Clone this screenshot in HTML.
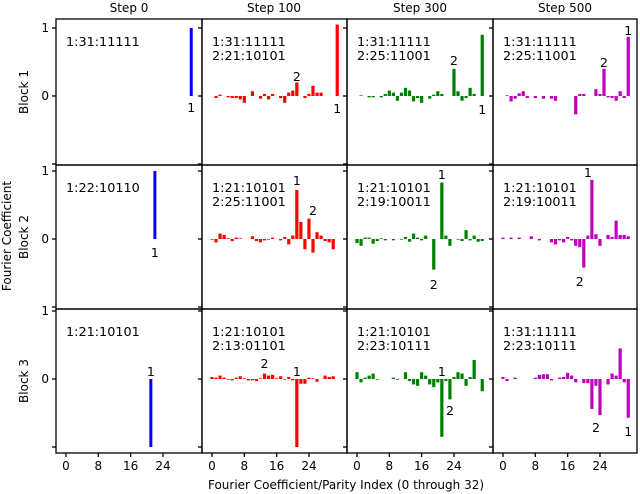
<!DOCTYPE html>
<html><head><meta charset="utf-8"><style>
body{margin:0;background:#fff}
svg{display:block;font-family:"DejaVu Sans","Liberation Sans",sans-serif}
</style></head><body>
<svg id="s" width="640" height="494" viewBox="0 0 640 494" xmlns="http://www.w3.org/2000/svg">
<g font-size="12" fill="#000" text-anchor="middle">
<text x="129" y="12">Step 0</text>
<text x="274" y="12">Step 100</text>
<text x="420" y="12">Step 300</text>
<text x="565" y="12">Step 500</text>
<text transform="translate(28,92) rotate(-90)">Block 1</text>
<text transform="translate(28,237) rotate(-90)">Block 2</text>
<text transform="translate(28,381) rotate(-90)">Block 3</text>
<text transform="translate(11,236) rotate(-90)">Fourier Coefficient</text>
<text x="346" y="489">Fourier Coefficient/Parity Index (0 through 32)</text>
</g>
<g id="bars"></g>
<g id="frame" fill="none" stroke="#000" stroke-width="1.3"></g>
</svg>
<script>
var svg=document.getElementById('s'),B=document.getElementById('bars'),F=document.getElementById('frame');
var NS="http://www.w3.org/2000/svg";
function el(t,a,p,txt){var e=document.createElementNS(NS,t);for(var k in a)e.setAttribute(k,a[k]);if(txt!==undefined)e.textContent=txt;(p||B).appendChild(e);return e;}
var L=[56,202,347,493,637],T=[19,165,309,453],Z=[96,239,379],U=68,cols=['#0000ff','#ff0000','#008000','#bf00bf'];
function z(n){var a=[];for(var i=0;i<32;i++)a.push(0);return a;}
var D=[[null,
[0,-.03,.02,0,-.02,-.03,-.03,-.05,-.1,0,.07,0,-.04,.03,-.05,.03,0,-.03,-.1,.05,.08,.2,0,-.03,.03,.15,.05,.05,0,0,0,1.05],
[0,.01,0,-.02,-.02,0,-.02,.03,.08,.05,-.07,.05,.12,.08,-.08,-.03,-.1,0,-.04,.02,.07,.03,0,0,.4,.07,-.07,-.03,.12,.03,0,.9],
[0,.01,-.08,-.04,.04,.07,-.03,0,-.03,0,-.04,0,-.04,-.07,0,0,0,0,-.27,.03,.03,0,0,.1,.03,.4,-.02,-.03,-.07,.07,-.03,.87]],
[null,
[-.01,-.05,.08,.06,.01,-.03,.02,.01,0,0,.04,-.03,-.05,-.02,-.01,.02,0,-.02,.03,-.08,.05,.72,.25,-.15,.3,-.2,.1,.05,-.03,-.05,-.15,0],
[-.06,-.1,.02,.02,-.07,-.03,.01,-.02,0,-.02,0,-.01,.03,-.04,.08,.02,-.02,.05,0,-.45,0,.83,.05,-.1,0,-.01,-.03,.13,-.02,.05,-.04,-.03],
[.02,0,.02,0,.02,0,0,.04,0,-.02,0,0,-.05,-.08,-.02,-.05,.03,-.02,-.1,-.12,-.42,.05,.87,.07,-.1,0,.06,.03,.27,.06,.06,.04]],
[null,
[.03,.02,.05,.02,-.01,-.02,.02,.04,.01,-.02,-.02,-.03,.01,.08,.05,.06,.01,.04,-.01,.03,-.02,-1,-.07,-.07,.02,.01,-.04,0,.05,.03,.04,0],
[.1,-.05,.02,.05,.08,-.01,0,0,0,.02,-.01,0,.1,-.03,-.08,-.1,.1,.05,-.08,-.12,-.05,-.85,-.03,-.3,.03,.1,.08,-.1,.03,.28,0,-.18],
[.03,-.03,0,.02,0,0,0,0,.02,.06,.07,.07,-.02,0,.02,.03,.09,.05,-.05,0,-.06,-.06,-.44,-.1,-.53,0,-.08,.08,.05,.45,-.05,-.57]]];
var a=z();a[31]=1;D[0][0]=a;a=z();a[22]=1;D[1][0]=a;a=z();a[21]=-1;D[2][0]=a;
function X(c,i){return L[c]+10+i*4.04;}
for(var r=0;r<3;r++)for(var c=0;c<4;c++){var v=D[r][c];for(var i=0;i<32;i++){if(!v[i])continue;var h=v[i]*U,w=c==0?3:3.2;
el('rect',{x:X(c,i)-w/2,y:h>0?Z[r]-h:Z[r],width:w,height:Math.abs(h),fill:cols[c]});}}
for(var r=0;r<3;r++)for(var c=0;c<4;c++)el('rect',{x:L[c],y:T[r],width:L[c+1]-L[c],height:T[r+1]-T[r]},F);
for(var r=0;r<3;r++)for(var c=0;c<4;c++)[1,0,-1].forEach(function(t){var y=Z[r]-t*U;if(y<T[r]-1||y>T[r+1]+1)return;el('line',{x1:L[c]-4,x2:L[c],y1:y,y2:y},F);
if(c==0&&t!=-1)el('text',{x:L[0]-7,y:y+4,'text-anchor':'end','font-size':12},B,String(t));});
for(var c=0;c<4;c++)[0,8,16,24].forEach(function(t){var x=X(c,t);el('line',{x1:x,x2:x,y1:453,y2:457},F);el('text',{x:x,y:470,'text-anchor':'middle','font-size':12},B,String(t));});
var ann=[[0,0,['1:31:11111']],[0,1,['1:31:11111','2:21:10101']],[0,2,['1:31:11111','2:25:11001']],[0,3,['1:31:11111','2:25:11001']],
[1,0,['1:22:10110']],[1,1,['1:21:10101','2:25:11001']],[1,2,['1:21:10101','2:19:10011']],[1,3,['1:21:10101','2:19:10011']],
[2,0,['1:21:10101']],[2,1,['1:21:10101','2:13:01101']],[2,2,['1:21:10101','2:23:10111']],[2,3,['1:31:11111','2:23:10111']]];
ann.forEach(function(a){a[2].forEach(function(s,k){el('text',{x:L[a[1]]+10,y:T[a[0]]+27+k*14,'font-size':12.8},B,s);});});
var lb=[[0,0,31,'1',112],[0,1,21,'2',81],[0,1,31,'1',113],[0,2,24,'2',65],[0,2,31,'1',114],[0,3,25,'2',67],[0,3,31,'1',35],
[1,0,22,'1',257],[1,1,21,'1',185],[1,1,25,'2',215],[1,2,21,'1',179],[1,2,19,'2',289],[1,3,21,'1',177],[1,3,19,'2',286],
[2,0,21,'1',376],[2,1,13,'2',368],[2,1,21,'1',376],[2,2,21,'1',376],[2,2,23,'2',415],[2,3,23,'2',432],[2,3,31,'1',436]];
lb.forEach(function(a){el('text',{x:X(a[1],a[2]),y:a[4],'text-anchor':'middle','font-size':12.5},B,a[3]);});
</script>
</body></html>
